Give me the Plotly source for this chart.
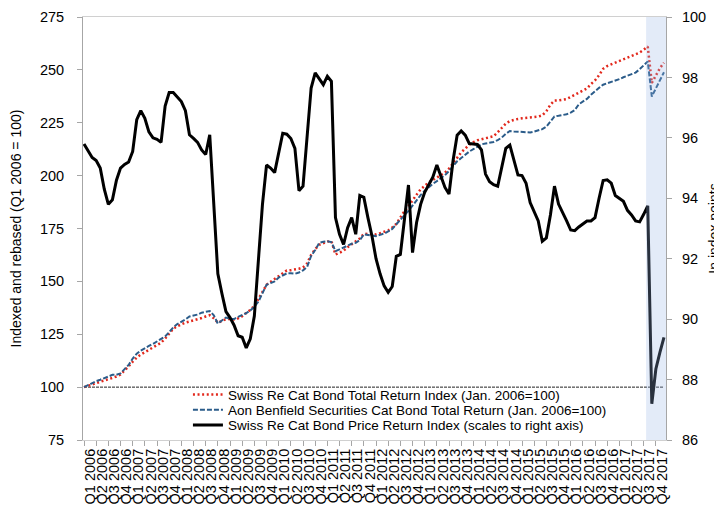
import plotly.graph_objects as go

# Quarter tick labels (one per 3 monthly observations)
quarters = [f"Q{q} {y}" for y in range(2006, 2018) for q in range(1, 5)]

# Monthly values, Jan 2006 .. Dec 2017 (left axis)
swiss_re_total = [
    100.0, 100.6, 101.2, 101.8, 102.4, 103.0, 103.6, 104.3, 105.0, 106.0, 107.8, 109.8,
    112.0, 114.0, 115.4, 116.5, 117.8, 119.0, 120.0, 121.0, 123.0, 125.5, 127.6, 128.8,
    129.8, 130.5, 131.0, 131.5, 132.0, 132.7, 133.4, 134.0, 132.5, 130.5, 131.2, 132.2,
    132.2, 132.0, 132.5, 133.5, 135.0, 136.5, 138.5, 141.5, 145.0, 148.4, 149.8, 151.0,
    152.5, 154.0, 155.2, 155.3, 155.5, 156.0, 156.6, 158.5, 162.5, 165.3, 167.3, 168.2,
    168.8, 169.0, 162.7, 163.5, 164.5, 166.2, 167.5, 168.8, 170.3, 172.5, 172.3, 172.2,
    172.2, 172.8, 173.5, 174.1, 175.5, 177.2, 180.2, 183.2, 185.5, 188.5, 191.0, 193.5,
    195.3, 196.8, 197.9, 199.1, 200.3, 201.4, 203.3, 205.8, 208.6, 211.0, 212.8, 214.6,
    215.8, 216.7, 217.2, 217.7, 218.1, 218.6, 220.5, 222.4, 224.6, 225.8, 226.4, 226.8,
    227.1, 227.3, 227.5, 227.7, 227.9, 228.5, 230.5, 233.5, 235.5, 235.6, 235.8, 236.2,
    237.2, 238.2, 239.0, 240.0, 241.2, 243.3, 245.0, 247.5, 250.5, 251.8, 252.6, 253.5,
    254.4, 255.1, 255.8, 256.5, 257.3, 258.2, 259.5, 261.0, 243.8, 247.5, 250.8, 253.4,
]

aon_total = [
    100.0, 101.0, 102.0, 102.8, 103.5, 104.2, 105.0, 105.8, 105.9, 106.5, 108.5, 110.5,
    113.5, 115.8, 117.3, 118.5, 119.5, 120.4, 121.5, 122.8, 124.0, 126.0, 128.2, 129.8,
    130.8, 132.0, 133.4, 133.7, 134.3, 135.2, 135.6, 136.0, 134.0, 130.0, 131.5, 132.9,
    132.3, 132.2, 133.2, 134.0, 135.0, 136.2, 138.0, 140.4, 144.5, 148.4, 149.2, 150.0,
    151.8, 153.0, 153.8, 153.8, 153.6, 154.2, 155.2, 156.8, 162.0, 164.8, 168.2, 168.7,
    169.0, 168.6, 164.3, 165.1, 166.0, 167.2, 167.8, 168.2, 169.5, 172.2, 172.0, 171.6,
    171.4, 172.0, 172.6, 173.6, 174.8, 177.0, 179.0, 181.0, 183.4, 185.8, 188.5, 190.8,
    192.8, 194.5, 196.1, 197.4, 198.6, 200.2, 202.2, 204.5, 206.8, 208.3, 210.0, 211.4,
    212.5, 213.8, 214.8, 215.2, 215.6, 215.9, 216.8, 218.0, 219.8, 221.1, 220.9, 220.7,
    220.5, 220.5, 220.4, 220.8, 221.4, 222.0, 223.2, 225.5, 228.0, 228.3, 228.7, 229.0,
    229.8, 231.0, 233.7, 235.0, 236.3, 238.2, 240.0, 241.5, 243.0, 243.6, 244.3, 245.0,
    245.6, 246.5, 247.2, 247.7, 248.7, 250.3, 252.0, 254.0, 237.4, 241.2, 245.0, 248.9,
]

# Monthly values (right axis)
swiss_re_price = [
    95.8, 95.55, 95.35, 95.25, 95.0, 94.3, 93.8, 93.95, 94.6, 95.0, 95.12, 95.2,
    95.55, 96.6, 96.9, 96.65, 96.2, 96.0, 95.95, 95.85, 97.05, 97.5, 97.5, 97.35,
    97.2, 96.9, 96.1, 95.98, 95.85, 95.6, 95.45, 96.1, 93.9, 91.5, 90.85, 90.25,
    90.05, 89.8, 89.45, 89.4, 89.05, 89.35, 90.1, 92.1, 93.8, 95.1, 95.0, 94.85,
    95.5, 96.15, 96.12, 95.98, 95.65, 94.25, 94.4, 95.95, 97.65, 98.15, 97.95, 97.76,
    98.04, 97.87, 93.36, 92.81, 92.47, 93.03, 93.36, 92.81, 94.09, 94.03, 93.36, 92.75,
    92.0, 91.5, 91.1, 90.89, 91.08, 92.08, 92.14, 93.25, 94.44, 92.2, 93.2, 93.8,
    94.2, 94.45, 94.7, 95.1, 94.75, 94.36, 94.14, 95.25, 96.09, 96.23, 96.09, 95.81,
    95.8, 95.78, 95.6, 94.8, 94.55, 94.45, 94.4, 95.09, 95.65, 95.76, 95.3, 94.77,
    94.75, 94.5, 93.86, 93.58, 93.25, 92.58, 92.69, 93.45, 94.4, 93.81, 93.55, 93.25,
    92.95, 92.93, 93.05, 93.15, 93.25, 93.25, 93.36, 94.0, 94.59, 94.61, 94.5, 94.09,
    94.0, 93.9, 93.6, 93.45, 93.25, 93.22, 93.47, 93.75, 87.2, 88.35, 88.9, 89.4,
]

assert len(swiss_re_total) == len(aon_total) == len(swiss_re_price) == 144

months = list(range(len(swiss_re_total)))
baseline = 100
shade_start = 138.6  # start of highlighted period (Aug/Sep 2017)

FONT = "Liberation Sans, Arial, sans-serif"
AXIS_GREY = "#a6a6a6"

fig = go.Figure()
fig.add_trace(go.Scatter(
    x=months, y=swiss_re_total, mode="lines", legend="legend",
    name="Swiss Re Cat Bond Total Return Index (Jan. 2006=100)",
    line=dict(color="#e2281c", width=2.5, dash="2px,2.6px"),
))
fig.add_trace(go.Scatter(
    x=months, y=aon_total, mode="lines", legend="legend2",
    name="Aon Benfield Securities Cat Bond Total Return (Jan. 2006=100)",
    line=dict(color="#2b5c8a", width=2, dash="5px,2px"),
))
fig.add_trace(go.Scatter(
    x=months, y=swiss_re_price, mode="lines", yaxis="y2", legend="legend3",
    name="Swiss Re Cat Bond Price Return Index (scales to right axis)",
    line=dict(color="#000000", width=3),
))

fig.add_shape(type="line", xref="x", yref="y", x0=months[0], x1=months[-1],
              y0=baseline, y1=baseline, layer="below",
              line=dict(color="#222222", width=1, dash="3px,1px"))
fig.add_shape(type="rect", xref="x", yref="paper", x0=shade_start, x1=143.5,
              y0=0, y1=1, layer="above", line=dict(width=0),
              fillcolor="rgba(150,182,228,0.27)")

legend_style = dict(x=0.18, xanchor="left", yanchor="middle",
                    bgcolor="rgba(0,0,0,0)", font=dict(size=13.5, family=FONT),
                    itemwidth=30)

# The page body adds an 8px offset, so the figure is 8px smaller than the window.
fig.update_layout(
    width=714, height=500,
    margin=dict(l=75, r=56, t=9, b=68),
    paper_bgcolor="white", plot_bgcolor="white",
    font=dict(family=FONT, color="#000000"),
    showlegend=True,
    legend=dict(y=0.107, **legend_style),
    legend2=dict(y=0.071, **legend_style),
    legend3=dict(y=0.035, **legend_style),
    xaxis=dict(
        range=[-0.25, 143.5], tickmode="array", automargin=False,
        tickvals=[1.5 + 3 * i for i in range(len(quarters))], ticktext=quarters,
        tickangle=-90, ticks="", showgrid=False, zeroline=False,
        showline=True, linecolor="#d0d0d0", mirror=True,
        tickfont=dict(size=14.5, family=FONT), ticklabelstandoff=2,
        minor=dict(tickmode="array", tickvals=[3 * i for i in range(49)],
                   ticks="outside", ticklen=5, tickcolor=AXIS_GREY, showgrid=False),
    ),
    yaxis=dict(
        range=[75, 275], tickmode="array", tickvals=list(range(75, 276, 25)),
        automargin=False,
        ticks="outside", ticklen=5, tickcolor=AXIS_GREY,
        showline=True, linecolor=AXIS_GREY, showgrid=False, zeroline=False,
        tickfont=dict(size=14.5, family=FONT), ticklabelstandoff=10,
        title=dict(text="Indexed and rebased (Q1 2006 = 100)",
                   font=dict(size=14, family=FONT), standoff=15),
    ),
    yaxis2=dict(
        overlaying="y", side="right", range=[86, 100], tickmode="array",
        automargin=False,
        tickvals=list(range(86, 101, 2)), ticks="outside", ticklen=5, tickcolor=AXIS_GREY,
        showline=True, linecolor=AXIS_GREY, showgrid=False, zeroline=False,
        tickfont=dict(size=14.5, family=FONT), ticklabelstandoff=7,
        title=dict(text="In index points", font=dict(size=14, family=FONT), standoff=19),
    ),
)

fig.write_html("out.html")
